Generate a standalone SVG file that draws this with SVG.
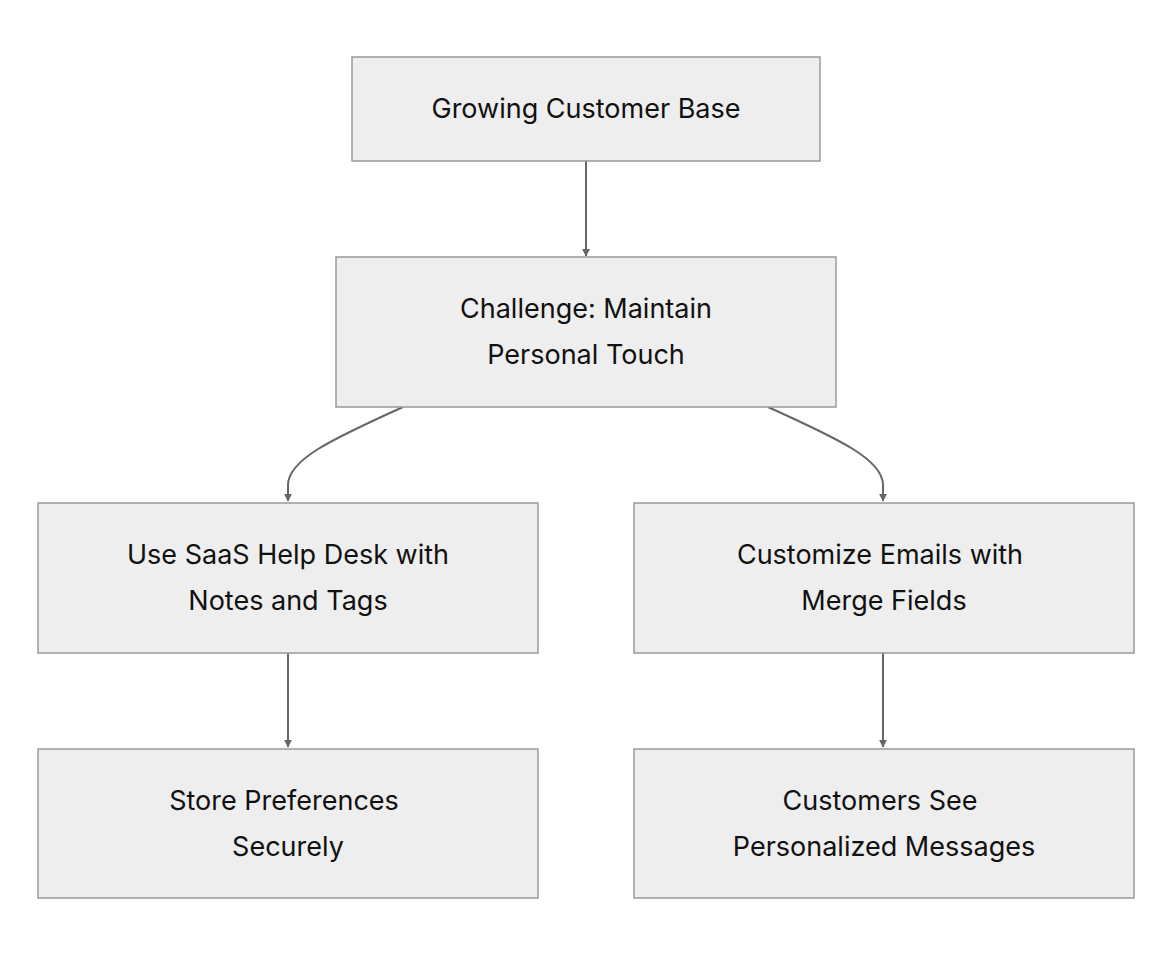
<svg xmlns="http://www.w3.org/2000/svg" width="1172" height="956" viewBox="0 0 1172 956">
<style>
.n rect{fill:#eeeeee;stroke:#999999;stroke-width:1.5}
.n text{font-family:Inter,"Liberation Sans",sans-serif;font-size:27px;fill:#111;text-anchor:middle}
.e path{fill:none;stroke:#666;stroke-width:2}
</style>
<defs><marker id="a" viewBox="0 0 10 10" refX="9" refY="5" markerWidth="8" markerHeight="8" orient="auto" markerUnits="userSpaceOnUse"><path d="M0,0L10,5L0,10z" fill="#666"/></marker></defs>
<rect width="1172" height="956" fill="#fff"/>
<g class="e">
<path d="M586,161V256" marker-end="url(#a)" style="marker-end:url(#a)"/>
<path d="M403,407C330,440 288,460 288,485V501" marker-end="url(#a)"/>
<path d="M768,407C841,440 883,460 883,485V501" marker-end="url(#a)"/>
<path d="M288,653V747" marker-end="url(#a)"/>
<path d="M883,653V747" marker-end="url(#a)"/>
</g>
<g id="n1" class="n"><rect x="352" y="57" width="468" height="104"/><text x="586" y="118">Growing Customer Base</text></g>
<g id="n2" class="n"><rect x="336" y="257" width="500" height="150"/><text x="586" y="318">Challenge: Maintain</text><text x="586" y="364">Personal Touch</text></g>
<g id="n3" class="n"><rect x="38" y="503" width="500" height="150"/><text x="288" y="564">Use SaaS Help Desk with</text><text x="288" y="610">Notes and Tags</text></g>
<g id="n4" class="n"><rect x="634" y="503" width="500" height="150"/><text x="880" y="564">Customize Emails with</text><text x="884" y="610">Merge Fields</text></g>
<g id="n5" class="n"><rect x="38" y="749" width="500" height="149"/><text x="284" y="810">Store Preferences</text><text x="288" y="856">Securely</text></g>
<g id="n6" class="n"><rect x="634" y="749" width="500" height="149"/><text x="880" y="810">Customers See</text><text x="884" y="856">Personalized Messages</text></g>
</svg>
